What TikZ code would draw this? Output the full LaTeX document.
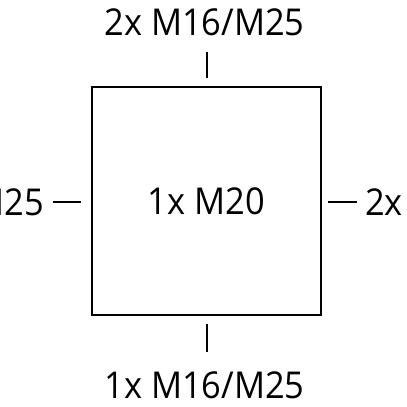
\documentclass[tikz,border=0pt]{standalone}
\usepackage{fontspec}
\setmainfont{Open Sans}[FakeStretch=0.93]
\tikzset{
    housing/.style={draw, line width=1.8pt, minimum width=229pt, minimum height=228pt, inner sep=0pt},
    entry/.style={line width=1.8pt},
    gland/.style={inner sep=0pt, font=\fontsize{37}{40}\selectfont}
}
\begin{document}
\begin{tikzpicture}[x=1pt, y=-1pt]
\useasboundingbox (0,0) rectangle (407,407);
\clip (0,0) rectangle (407,407);
% housing with centre entry
\node[housing, gland] (box) at (206.5,201) {1x M20};
% top
\coordinate (topA) at (207,52);
\coordinate (topB) at (207,78);
\draw[entry] (topA) -- (topB);
\node[gland, anchor=base] (toplabel) at (204.5,35) {2x M16/M25};
% bottom
\coordinate (botA) at (207,324);
\coordinate (botB) at (207,352);
\draw[entry] (botA) -- (botB);
\node[gland, anchor=base] (botlabel) at (204.5,398) {1x M16/M25};
% left
\coordinate (leftA) at (53,202);
\coordinate (leftB) at (81,202);
\draw[entry] (leftA) -- (leftB);
\node[gland, anchor=base east] (leftlabel) at (44,215) {2x M16/M25};
% right
\coordinate (rightA) at (328,202);
\coordinate (rightB) at (357,202);
\draw[entry] (rightA) -- (rightB);
\node[gland, anchor=base west] (rightlabel) at (365,215) {2x M16/M25};
\end{tikzpicture}
\end{document}
